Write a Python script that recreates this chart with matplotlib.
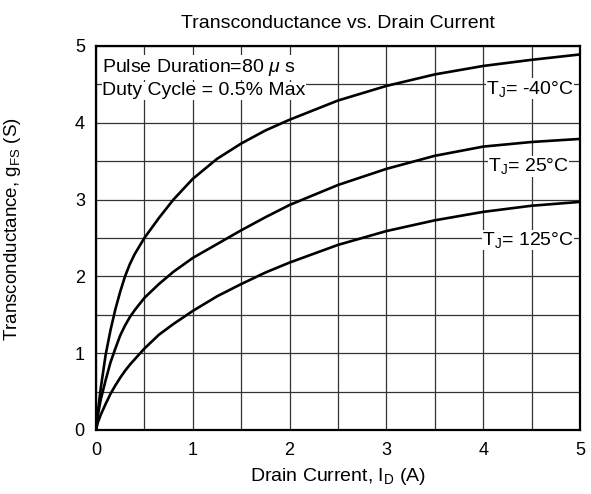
import numpy as np
import matplotlib.pyplot as plt

plt.rcParams['font.family'] = ['Liberation Sans', 'DejaVu Sans']
plt.rcParams['mathtext.fontset'] = 'custom'
plt.rcParams['mathtext.rm'] = 'Liberation Sans'
plt.rcParams['mathtext.it'] = 'Liberation Sans:italic'

# Data (drain current [A] -> transconductance [S])
i_d = [0, 0.02, 0.05, 0.1, 0.15, 0.2, 0.25, 0.3, 0.35, 0.4, 0.5, 0.65, 0.8, 1.0,
       1.25, 1.5, 1.75, 2.0, 2.5, 3.0, 3.5, 4.0, 4.5, 5.0]
gfs_m40 = [0, 0.24, 0.55, 0.98, 1.30, 1.57, 1.80, 2.00, 2.16, 2.29, 2.50, 2.76, 3.00, 3.27,
           3.53, 3.73, 3.90, 4.04, 4.29, 4.48, 4.63, 4.74, 4.82, 4.89]
gfs_25 = [0, 0.20, 0.40, 0.65, 0.88, 1.06, 1.23, 1.36, 1.47, 1.56, 1.72, 1.90, 2.06, 2.24,
          2.42, 2.60, 2.77, 2.93, 3.19, 3.40, 3.57, 3.69, 3.75, 3.79]
gfs_125 = [0, 0.10, 0.20, 0.34, 0.47, 0.58, 0.68, 0.77, 0.85, 0.92, 1.06, 1.24, 1.38, 1.55,
           1.74, 1.90, 2.05, 2.18, 2.41, 2.59, 2.73, 2.84, 2.92, 2.97]

labels = ["T$_\\mathregular{J}$= -40°C", "T$_\\mathregular{J}$= 25°C", "T$_\\mathregular{J}$= 125°C"]
label_x = [4.03, 4.05, 3.99]
label_y = [4.38, 3.37, 2.41]

fig = plt.figure(figsize=(5.91, 4.94), dpi=100)
ax = fig.add_axes([0.1624, 0.1296, 0.819, 0.7773])

for g in [gfs_m40, gfs_25, gfs_125]:
    ax.plot(i_d, g, color="black", lw=1.9, zorder=3, solid_joinstyle="round")

for lab, lx, ly in zip(labels, label_x, label_y):
    ax.text(lx, ly, lab, fontsize=14, va="baseline", ha="left", zorder=4,
            bbox=dict(facecolor="white", edgecolor="none", pad=0.3))

# pulse condition note
ax.text(0.064, 4.665, "Pulse Duration=80 $\\mathit{\\mu}$ s", fontsize=14, va="baseline", ha="left",
        zorder=4, bbox=dict(facecolor="white", edgecolor="none", pad=1.5))
ax.text(0.064, 4.36, "Duty Cycle = 0.5% Max", fontsize=14, va="baseline", ha="left",
        zorder=4, bbox=dict(facecolor="white", edgecolor="none", pad=0.3))

ax.set_xlim(0, 5)
ax.set_ylim(0, 5)
ax.set_xticks(np.arange(0, 5.01, 1))
ax.set_yticks(np.arange(0, 5.01, 1))
ax.set_xticks(np.arange(0, 5.01, 0.5), minor=True)
ax.set_yticks(np.arange(0, 5.01, 0.5), minor=True)
ax.grid(True, which="both", color="#333333", lw=0.9)
ax.tick_params(which="both", length=0, labelsize=13)
ax.tick_params(axis="x", pad=9)
ax.tick_params(axis="y", pad=8)
for s in ax.spines.values():
    s.set_linewidth(1.6)

ax.set_title("Transconductance vs. Drain Current", fontsize=14, pad=13)
ax.set_xlabel("Drain Current, I$_\\mathregular{D}$ (A)", fontsize=14, labelpad=5)
ax.set_ylabel("Transconductance, g$_\\mathregular{FS}$ (S)", fontsize=13.5)
ax.yaxis.set_label_coords(-0.15, 0.523)

fig.savefig("out.png", dpi=100)
